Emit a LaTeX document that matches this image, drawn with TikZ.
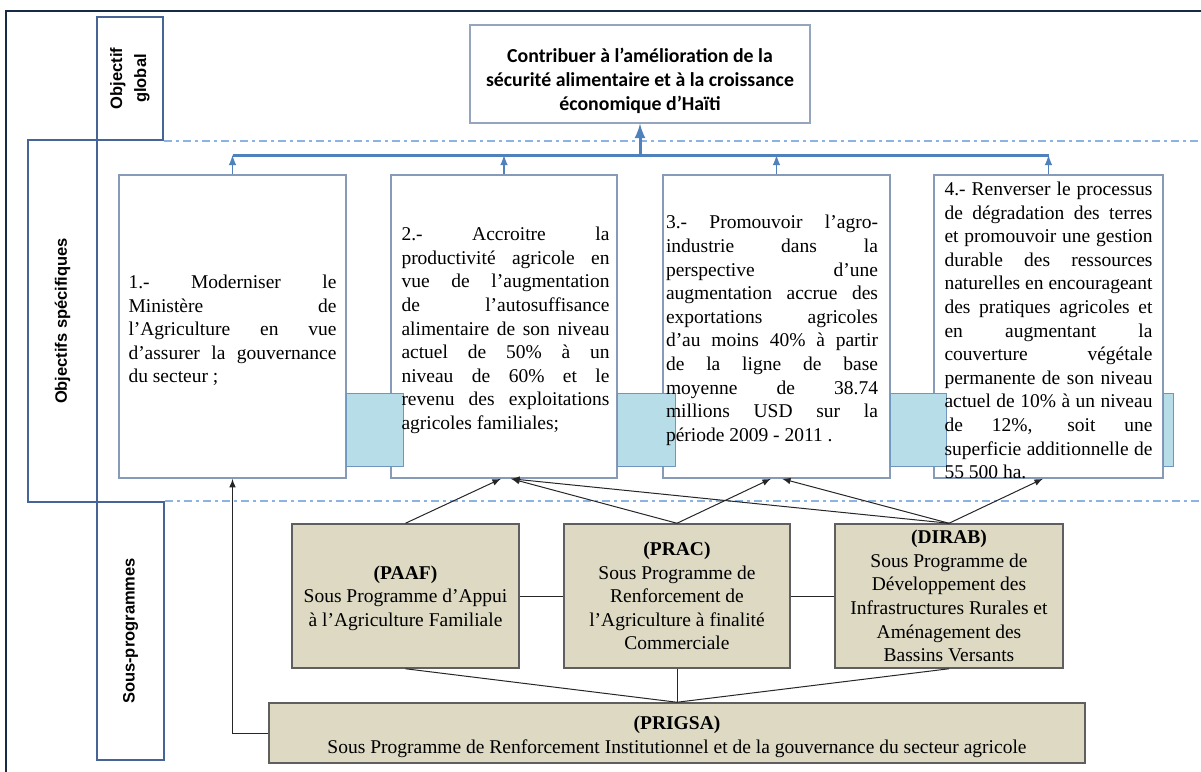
\documentclass[tikz,border=0pt]{standalone}
\usepackage{fontspec}
\setmainfont{Liberation Serif}
\setsansfont{Liberation Sans}
\newfontfamily\calibri{Carlito}
\usetikzlibrary{arrows,fit,scopes}
\definecolor{framec}{RGB}{23,43,72}
\definecolor{lblblue}{RGB}{70,100,150}
\definecolor{boxgray}{RGB}{135,155,185}
\definecolor{topgray}{RGB}{150,165,190}
\definecolor{sepblue}{RGB}{141,179,226}
\definecolor{barblue}{RGB}{79,129,189}
\definecolor{aqua}{RGB}{183,221,232}
\definecolor{aquaedge}{RGB}{110,150,190}
\definecolor{sptan}{RGB}{221,217,195}
\definecolor{spedge}{RGB}{95,95,95}
\tikzset{
  >= latex,
  lb/.style={draw=lblblue, line width=0.75pt, inner sep=0pt, fit={#1}},
  lbt/.style={rotate=90, align=center, inner sep=0pt, font=\sffamily\bfseries\fontsize{8.25}{12}\selectfont},
  goalbox/.style={draw=topgray, line width=0.6pt, inner sep=0pt, fit={#1}},
  goalt/.style={align=center, inner sep=0pt, font=\calibri\bfseries\fontsize{9.9}{12}\selectfont},
  ob/.style={draw=boxgray, fill=white, line width=0.75pt, inner sep=0pt, fit={#1}},
  aq/.style={draw=aquaedge, fill=aqua, line width=0.5pt, inner sep=0pt, fit={#1}},
  obt/.style={text width=104pt, align=justify, inner sep=0pt,
    font=\fontsize{9.75}{11.8}\selectfont},
  sp/.style={draw=spedge, fill=sptan, line width=0.75pt, inner sep=0pt, fit={#1}},
  spt/.style={align=center, inner sep=0pt, font=\fontsize{9.75}{11.8}\selectfont}
}

\begin{document}
\begin{tikzpicture}[x=0.5pt, y=-0.5pt,
  sep/.style={draw=sepblue, line width=1pt, dash pattern=on 4pt off 2pt on 1.5pt off 2pt},
  bar/.style={draw=barblue, line width=0.75pt}]
  \useasboundingbox (0,0) rectangle (1201,772);
  \coordinate (nw) at (6,11);
  \coordinate (ne) at (1201,11);
  \coordinate (sw) at (6,772);
  \coordinate (bary) at (0,155);
  \draw[framec, line width=1.25pt] (sw) -- (nw) -- (ne);

  \node[lb={(97,17) (163,140)}] (glob) {};
  \node[lb={(28,140) (97,502)}] (spec) {};
  \node[lb={(97,502) (164,760)}] (sousp) {};
  \node[lbt] (globt) at (glob) {Objectif\\global};
  \node[lbt] (spect) at (spec) {Objectifs spécifiques};
  \node[lbt] (souspt) at (sousp) {Sous-programmes};
  \draw[sep] (glob.south east) -- (glob.south east -| ne);
  \draw[sep] (sousp.north east) -- (sousp.north east -| ne);

  \node[goalbox={(470,25) (810,123)}] (goal) {};
  \node[goalt] (goaltxt) at ([yshift=-3.5pt]goal.center) {Contribuer à l’amélioration de la\\
    sécurité alimentaire et à la croissance\\économique d’Haïti};

  \node[ob={(119,175) (346,478)}] (o1) {};
  \node[ob={(391,175) (617,478)}] (o2) {};
  \node[ob={(663,175) (890,478)}] (o3) {};
  \node[ob={(934,175) (1163,478)}] (o4) {};
  \node[aq={(346,393) (403,466)}] (a1) {};
  \node[aq={(617,393) (675,466)}] (a2) {};
  \node[aq={(890,393) (946,466)}] (a3) {};
  \node[aq={(1163,393) (1173,466)}] (a4) {};
  \node[obt] (o1t) at ([yshift=-2pt]o1.center) {1.- Moderniser le\linebreak Ministère de\linebreak
    l’Agriculture en vue\linebreak d’assurer la gouvernance\linebreak du secteur ;};
  \node[obt] (o2t) at ([xshift=0.75pt, yshift=-2pt]o2.center) {2.- Accroitre la\linebreak
    productivité agricole en\linebreak vue de l’augmentation\linebreak
    de l’autosuffisance\linebreak alimentaire de son niveau\linebreak
    actuel de 50\% à un\linebreak niveau de 60\% et le\linebreak
    revenu des exploitations\linebreak agricoles familiales;};
  \node[obt, text width=106pt] (o3t) at ([xshift=-2.25pt, yshift=-2pt]o3.center) {3.- Promouvoir l’agro-\linebreak
    industrie dans la\linebreak perspective d’une\linebreak
    augmentation accrue des\linebreak exportations agricoles\linebreak
    d'au moins 40\% à partir\linebreak de la ligne de base\linebreak
    moyenne de 38.74\linebreak millions USD sur la\linebreak période 2009 - 2011 .};
  \node[obt] (o4t) at ([yshift=-2pt]o4.center) {4.- Renverser le processus\linebreak
    de dégradation des terres\linebreak et promouvoir une gestion\linebreak
    durable des ressources\linebreak naturelles en encourageant\linebreak
    des pratiques agricoles et\linebreak en augmentant la\linebreak
    couverture végétale\linebreak permanente de son niveau\linebreak
    actuel de 10\% à un niveau\linebreak de 12\%, soit une\linebreak
    superficie additionnelle de\linebreak 55~500 ha.};

  \draw[bar, line width=1.5pt] (o1.north |- bary) -- (o4.north |- bary);
  \foreach \o in {o1,o2,o3,o4}
    \draw[bar, ->] (\o.north) -- (\o.north |- bary);
  \draw[bar, line width=1.5pt, ->] (goal.south |- bary) -- (goal.south);

  \node[sp={(292,524) (519,668)}] (paaf) {};
  \node[sp={(564,524) (790,668)}] (prac) {};
  \node[sp={(835,524) (1063,668)}] (dirab) {};
  \node[sp={(269,703) (1085,763)}] (prigsa) {};
  \node[spt] (paaft) at ([yshift=-1pt]paaf.center) {\textbf{(PAAF)}\\Sous Programme d'Appui\\
    à l'Agriculture Familiale};
  \node[spt] (pract) at (prac.center) {\textbf{(PRAC)}\\Sous Programme de\\Renforcement de\\
    l’Agriculture à finalité\\Commerciale};
  \node[spt] (dirabt) at (dirab.center) {\textbf{(DIRAB)}\\Sous Programme de\\
    Développement des\\Infrastructures Rurales et\\Aménagement des\\Bassins Versants};
  \node[spt] (prigsat) at ([yshift=-2pt]prigsa.center) {\textbf{(PRIGSA)}\\Sous Programme de Renforcement
    Institutionnel et de la gouvernance du secteur agricole};

  {[black!85, line width=0.5pt]
  \draw (paaf) -- (prac);
  \draw (prac) -- (dirab);
  \draw (paaf.south) -- (prigsa.north);
  \draw (prac.south) -- (prigsa.north);
  \draw (dirab.south) -- (prigsa.north);
  }
  {[->, black!85, line width=0.5pt]
  \draw (paaf.north) -- ([xshift=-1.5pt]o2.south);
  \draw (prac.north) -- ([xshift=3.5pt]o2.south);
  \draw (prac.north) -- ([xshift=-2.75pt]o3.south);
  \draw (dirab.north) -- ([xshift=3.5pt]o2.south);
  \draw (dirab.north) -- ([xshift=2.75pt]o3.south);
  \draw (dirab.north) -- ([xshift=-2.75pt]o4.south);
  \draw (prigsa.west) -| (o1.south);
  }
\end{tikzpicture}
\end{document}
